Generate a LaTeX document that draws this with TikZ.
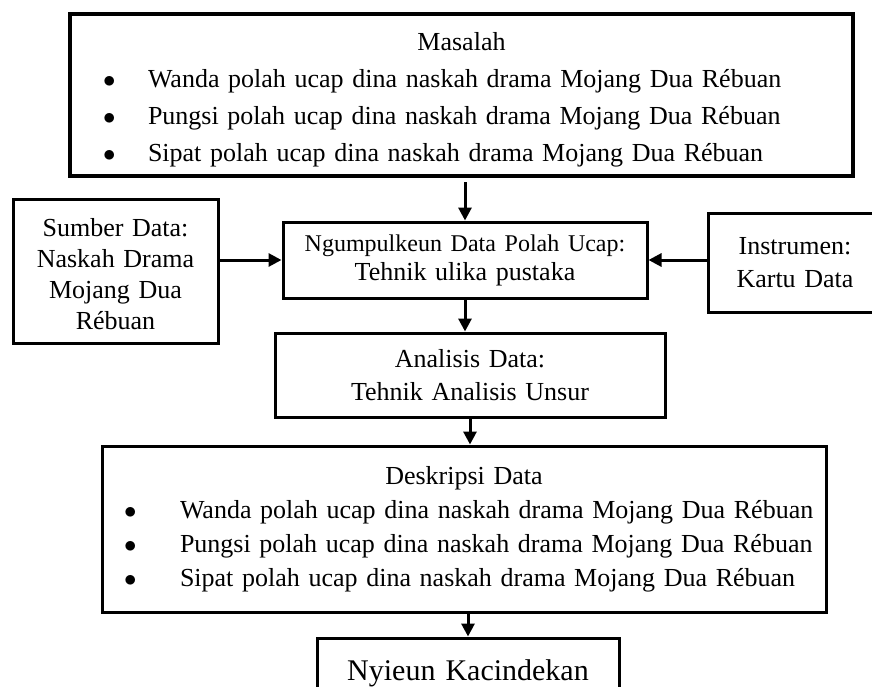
\documentclass[tikz,border=0pt]{standalone}
\usepackage{fontspec}
\setmainfont{Liberation Serif}
\usetikzlibrary{arrows.meta}
\tikzstyle{kotak} = [rectangle, draw, line width=3pt, inner xsep=0pt,
    inner ysep=0pt, align=center, font=\fontsize{26}{33}\selectfont]
\tikzstyle{kotakgede} = [kotak, line width=4pt]
\newcommand{\butir}[2][33pt]{\makebox[\linewidth][l]{\hspace*{#1}\makebox[\dimexpr78pt-#1\relax][l]{$\bullet$}#2}}

\begin{document}
\begin{tikzpicture}[->,>={Triangle[length=13pt,width=13pt]},line width=3pt,
                    x=1pt,y=1pt]
  \useasboundingbox (0,0) rectangle (872,-686);
  \clip (0,0) rectangle (872,-686);

  \node[kotakgede,text width=783pt,minimum height=162pt,
        font=\fontsize{26}{37}\selectfont] (masalah) at (461.5,-95)
        {\rule{0pt}{28pt}Masalah\\
         \butir{Wanda polah ucap dina naskah drama Mojang Dua Rébuan}\\
         \butir{Pungsi polah ucap dina naskah drama Mojang Dua Rébuan}\\
         \butir{Sipat polah ucap dina naskah drama Mojang Dua Rébuan}};
  \node[kotak,node distance=165pt,text width=364pt,minimum height=76pt,
        font=\fontsize{26}{29}\selectfont]
        (ngumpul) [below of=masalah,xshift=3.5pt]
        {{\fontsize{24}{29}\selectfont Ngumpulkeun Data Polah Ucap:}\\ Tehnik ulika pustaka};
  \node[kotak,node distance=349.5pt,text width=205pt,minimum height=144pt,
        font=\fontsize{26}{31}\selectfont]
        (sumber) [left of=ngumpul,yshift=-11pt]
        {\rule{0pt}{24pt}Sumber Data:\\ Naskah Drama\\ Mojang Dua\\ Rébuan};
  \node[kotak,node distance=330pt,text width=174pt,minimum height=99pt]
        (instrumen) [right of=ngumpul,yshift=-2.5pt]
        {Instrumen:\\ Kartu Data};
  \node[kotak,node distance=115pt,text width=390pt,minimum height=84pt]
        (analisis) [below of=ngumpul,xshift=5pt]
        {Analisis Data:\\ Tehnik Analisis Unsur};
  \node[kotak,node distance=154pt,text width=724pt,minimum height=166pt,
        font=\fontsize{26}{34}\selectfont]
        (deskripsi) [below of=analisis,xshift=-6pt]
        {Deskripsi Data\\
         \butir[22pt]{Wanda polah ucap dina naskah drama Mojang Dua Rébuan}\\
         \butir[22pt]{Pungsi polah ucap dina naskah drama Mojang Dua Rébuan}\\
         \butir[22pt]{Sipat polah ucap dina naskah drama Mojang Dua Rébuan}};
  \node[kotak,node distance=144pt,text width=302pt,minimum height=70pt,
        font=\fontsize{30}{34}\selectfont]
        (nyieun) [below of=deskripsi,xshift=4pt]
        {Nyieun Kacindekan};

  \draw ([yshift=-4pt]ngumpul.north |- masalah.south) -- (ngumpul.north);
  \draw (ngumpul.west -| sumber.east) -- (ngumpul.west);
  \draw (ngumpul.east -| instrumen.west) -- (ngumpul.east);
  \draw (ngumpul.south) -- (ngumpul.south |- analisis.north);
  \draw (analisis.south) -- (analisis.south |- deskripsi.north);
  \draw (nyieun.north |- deskripsi.south) -- (nyieun.north);
\end{tikzpicture}
\end{document}
